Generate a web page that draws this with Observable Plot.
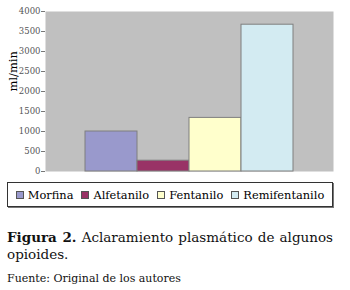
<!DOCTYPE html>
<html>
<head>
<meta charset="utf-8">
<script src="https://cdn.jsdelivr.net/npm/d3@7"></script>
<script src="https://cdn.jsdelivr.net/npm/@observablehq/plot@0.6"></script>
<style>
  html, body { margin: 0; padding: 0; background: #fff; }
  #wrap { width: 350px; }
  #legend {
    position: absolute; left: 7px; top: 182px; width: 324px; height: 23px;
    border: 1px solid #333; box-shadow: 1px 1px 0 #777;
    display: flex; align-items: center; justify-content: center; gap: 8px;
    font-family: "DejaVu Serif", serif; font-size: 11.4px; color: #000;
  }
  #legend span.item { display: inline-flex; align-items: center; white-space: nowrap; }
  #legend span.sw { display: inline-block; width: 6px; height: 6px; border: 1px solid #555; margin-right: 4px; }
  .cap {
    position: absolute; left: 7px; width: 326px;
    font-family: "DejaVu Serif", serif; font-size: 13.5px; line-height: 17px;
    color: #111; white-space: nowrap;
  }
  #cap1 { top: 229px; text-align: justify; text-align-last: justify; }
  #cap2 { top: 246px; }
  #source {
    position: absolute; left: 7px; top: 272px;
    font-family: "DejaVu Serif", serif; font-size: 11px; color: #111;
  }
</style>
</head>
<body>
<div id="wrap">
  <div id="chart"></div>
  <div id="legend"></div>
  <div id="cap1" class="cap" style="white-space: normal;"><b>Figura 2.</b> Aclaramiento plasmático de algunos</div>
  <div id="cap2" class="cap">opioides.</div>
  <div id="source">Fuente: Original de los autores</div>
</div>
<script>
const drugs = ["Morfina", "Alfetanilo", "Fentanilo", "Remifentanilo"];
const clearance = [1000, 270, 1340, 3670];
const colors = ["#9999CC", "#993366", "#FFFFCC", "#D3EBF2"];
const yTicks = [0, 500, 1000, 1500, 2000, 2500, 3000, 3500, 4000];

const data = drugs.map((d, i) => ({drug: d, value: clearance[i]}));

const chart = Plot.plot({
  width: 350,
  height: 178,
  marginTop: 11,
  marginBottom: 7,
  marginLeft: 45,
  marginRight: 17,
  style: {fontFamily: "'DejaVu Serif', serif", fontSize: "8.5px", color: "#555", background: "transparent"},
  x: {domain: drugs, paddingInner: 0, paddingOuter: 0.743, axis: null},
  y: {domain: [0, 4000], label: null},
  color: {domain: drugs, range: colors},
  marks: [
    Plot.frame({fill: "#C0C0C0", stroke: null}),
    Plot.barY(data, {x: "drug", y: "value", fill: "drug", stroke: "#7f7f7f", strokeWidth: 1, inset: 0}),
    Plot.axisY({ticks: yTicks, tickFormat: d3.format("d"), tickSize: 4, tickPadding: 1, stroke: "#777", label: null}),
    Plot.text(["ml/min"], {frameAnchor: "left", dx: -32, rotate: -90, fontSize: 11.5, fill: "#000", fontFamily: "'DejaVu Serif', serif"})
  ]
});
document.getElementById("chart").appendChild(chart);

const legend = document.getElementById("legend");
drugs.forEach((d, i) => {
  const item = document.createElement("span");
  item.className = "item";
  const sw = document.createElement("span");
  sw.className = "sw";
  sw.style.background = colors[i];
  item.appendChild(sw);
  item.appendChild(document.createTextNode(d));
  legend.appendChild(item);
});
</script>
</body>
</html>
